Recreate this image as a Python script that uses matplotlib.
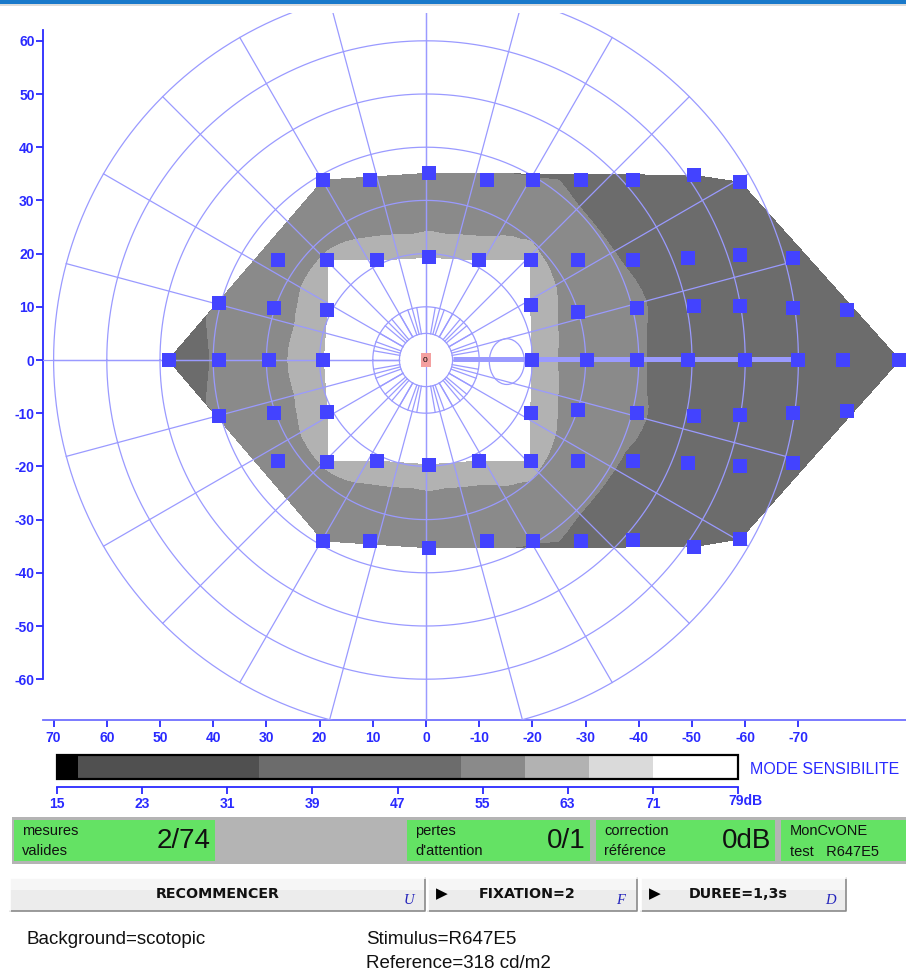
import numpy as np
import matplotlib
matplotlib.use("Agg")
import matplotlib.pyplot as plt
import matplotlib.tri as mtri
from matplotlib.patches import Rectangle, Ellipse

# ---- test locations (deg, nasal positive) and measured sensitivity (dB) ----
pt_x = [19.3, 10.5, -0.6, -11.4, -20.1, -29.1, -39.0, -50.3, -59.1,
        27.8, 18.6, 9.2, -0.6, -9.9, -19.7, -28.5, -39.0, -49.3, -59.1, -68.9,
        39.0, 28.5, 18.6, -19.7, -28.5, -39.6, -50.3, -59.1, -68.9, -79.2,
        48.4, 39.0, 29.6, 19.3, -19.9, -30.2, -39.6, -49.3, -60.0, -70.0, -78.4, -89.0,
        39.0, 28.5, 18.6, -19.7, -28.5, -39.6, -50.3, -59.1, -68.9, -79.2,
        27.8, 18.6, 9.2, -0.6, -9.9, -19.7, -28.5, -39.0, -49.3, -59.1, -68.9,
        19.3, 10.5, -0.6, -11.4, -20.1, -29.1, -39.0, -50.3, -59.1]
pt_y = [33.8, 33.8, 35.1, 33.8, 33.8, 33.8, 33.8, 34.7, 33.4,
        18.8, 18.8, 18.8, 19.3, 18.8, 18.8, 18.8, 18.8, 19.1, 19.7, 19.1,
        10.7, 9.8, 9.4, 10.3, 9.0, 9.8, 10.1, 10.1, 9.8, 9.4,
        0.0, 0.0, 0.0, 0.0, 0.0, 0.0, 0.0, 0.0, 0.0, 0.0, 0.0, 0.0,
        -10.5, -9.9, -9.8, -9.9, -9.4, -9.9, -10.5, -10.3, -9.9, -9.6,
        -19.0, -19.1, -19.0, -19.7, -19.0, -19.0, -19.0, -19.0, -19.3, -19.9, -19.3,
        -34.0, -34.0, -35.3, -34.0, -34.0, -34.0, -33.8, -35.1, -33.6]
pt_db = [55, 54.5, 54.5, 54.5, 55, 51, 48, 47, 46,
         56, 59.5, 61, 61, 61, 60, 56, 52, 47, 46, 45,
         54, 57, 62, 62, 57, 54, 48, 47, 46, 45,
         47, 54, 57.5, 62, 62, 56, 54, 48, 47, 46, 45, 44,
         54, 57, 62, 62, 57, 54, 48, 47, 46, 45,
         56, 59.5, 61, 61, 61, 60, 56, 52, 47, 46, 45,
         55, 54.5, 54.5, 54.5, 55, 51, 48, 47, 46]

# ---- sensitivity scale ----
db_bounds = [15, 17, 34, 53, 59, 65, 71, 79]
db_colors = ['#000000', '#505050', '#6c6c6c', '#8a8a8a', '#b2b2b2', '#dadada', '#ffffff']
db_ticks = [15, 23, 31, 39, 47, 55, 63, 71, 79]

# ---- axes ticks and perimeter grid ----
x_ticks = [70, 60, 50, 40, 30, 20, 10, 0, -10, -20, -30, -40, -50, -60, -70]
y_ticks = [60, 50, 40, 30, 20, 10, 0, -10, -20, -30, -40, -50, -60]
circle_radii = [5, 10, 20, 30, 40, 50, 60, 70]
spoke_step = 15
inner_spoke_step = 10

# ---- status panel ----
status_fields = [(("mesures", "valides"), "2/74"), (("pertes", "d'attention"), "0/1"),
                 (("correction", "référence"), "0dB")]
device_text = ("MonCvONE", "test   R647E5")
buttons = [("RECOMMENCER", "U", False), ("FIXATION=2", "F", True), ("DUREE=1,3s", "D", True)]
info_left = "Background=scotopic"
info_right = ["Stimulus=R647E5", "Reference=318 cd/m2"]

W, H = 906, 974
PX = 5.32            # pixels per degree
CX, CY = 426, 360    # fixation point in pixels
GRID = '#9a9aff'
AXIS_BLUE = '#2a2aff'
FONT = 'Liberation Sans'

fig = plt.figure(figsize=(W / 100, H / 100), dpi=100)

# ---------- window furniture drawn in pixel space ----------
ui = fig.add_axes([0, 0, 1, 1])
ui.set_xlim(0, W)
ui.set_ylim(H, 0)
ui.axis('off')
ui.add_patch(Rectangle((0, 0), W, 3.5, color='#1979ca', lw=0))
ui.add_patch(Rectangle((0, 3.5), W, 2, color='#dcdcdc', lw=0))

# status bar
ui.add_patch(Rectangle((12, 817), W - 12, 47, color='#b4b4b4', lw=0))
green = '#64e264'
boxes = [(14, 215), (407, 590), (596, 775)]
for (x0, x1), ((l1, l2), val) in zip(boxes, status_fields):
    ui.add_patch(Rectangle((x0, 820), x1 - x0, 41, color=green, lw=0))
    ui.text(x0 + 8, 831, l1, fontsize=10.5, family=FONT, va='center', ha='left', color='#111111')
    ui.text(x0 + 8, 851, l2, fontsize=10.5, family=FONT, va='center', ha='left', color='#111111')
    ui.text(x1 - 4, 841, val, fontsize=20, family=FONT, va='center',
            ha='right', color='#111111')
ui.add_patch(Rectangle((781, 820), W - 781, 41, color=green, lw=0))
ui.text(790, 831, device_text[0], fontsize=10.5, family=FONT, va='center', ha='left', color='#111111')
ui.text(790, 852, device_text[1], fontsize=10.5, family=FONT, va='center', ha='left', color='#111111')

# buttons
btn_spans = [(10, 425), (428, 637), (641, 846)]
for (x0, x1), (lab, key, arrow) in zip(btn_spans, buttons):
    ui.add_patch(Rectangle((x0, 878), x1 - x0, 33, facecolor='#ececec', lw=0))
    ui.add_patch(Rectangle((x0, 878), x1 - x0, 12, facecolor='#f6f6f6', lw=0))
    ui.plot([x0, x1, x1], [911, 911, 878], color='#8a8a8a', lw=1.2)
    ui.plot([x0, x0, x1], [911, 878, 878], color='#ffffff', lw=1.2)
    if arrow:
        ui.text(x0 + 8, 894, '\u25B6', fontsize=11, family='DejaVu Sans',
                va='center', ha='left', color='black')
        cx_lab = (x0 + x1) / 2 - 5.5
    else:
        cx_lab = (x0 + x1) / 2
    ui.text(cx_lab, 894, lab, fontsize=10.3, family='DejaVu Sans', weight='bold',
            va='center', ha='center', color='#111111')
    ui.text(x1 - 16, 900, key, fontsize=10.5, family='Liberation Serif', style='italic',
            va='center', ha='center', color='#2222bb')

ui.text(27, 939, info_left, fontsize=13.5, family=FONT, va='center', ha='left', color='#111111')
for i, t in enumerate(info_right):
    ui.text(366, 939 + 25 * i, t, fontsize=13.5, family=FONT, va='center', ha='left',
            color='#111111')

# ---------- perimetry chart ----------
ax = fig.add_axes([43 / W, 1 - 720 / H, (W - 43) / W, (720 - 13) / H])
ax.set_xlim((CX - 43) / PX, (CX - W) / PX)
ax.set_ylim((CY - 720) / PX, (CY - 13) / PX)
ax.patch.set_visible(False)

px_ = np.array(pt_x)
py_ = np.array(pt_y)
tri = mtri.Triangulation(px_, py_)
# the central zone enclosed by the innermost ring of locations is not shaded
inner = np.hypot(px_, py_) < 28
tri.set_mask(np.all(inner[tri.triangles], axis=1))
interp = mtri.CubicTriInterpolator(tri, pt_db, kind='geom')
tri_f, z_f = mtri.UniformTriRefiner(tri).refine_field(pt_db, triinterpolator=interp, subdiv=3)
z_f = np.ma.filled(np.ma.masked_invalid(z_f), 60.0)
ax.tricontourf(tri_f, z_f, levels=db_bounds, colors=db_colors, zorder=1)

th = np.linspace(0, 2 * np.pi, 721)
for r in circle_radii:
    ax.plot(r * np.cos(th), r * np.sin(th), color=GRID, lw=0.9, zorder=3)
for a in np.deg2rad(np.arange(0, 360, spoke_step)):
    ax.plot([5 * np.cos(a), 70 * np.cos(a)], [5 * np.sin(a), 70 * np.sin(a)],
            color=GRID, lw=0.9, zorder=3)
for a in np.deg2rad(np.arange(0, 360, inner_spoke_step)):
    ax.plot([5 * np.cos(a), 10 * np.cos(a)], [5 * np.sin(a), 10 * np.sin(a)],
            color=GRID, lw=0.9, zorder=3)
ax.plot([0, 0], [-70, 70], color=GRID, lw=0.9, zorder=3)
ax.plot([5, 72], [0, 0], color=GRID, lw=0.9, zorder=3)
# meridian towards the temporal side and the blind spot
ax.plot([-5, -70], [0.25, 0.25], color=GRID, lw=3.6, zorder=3, solid_capstyle='butt')
ax.add_patch(Ellipse((-15.2, -0.3), 6.6, 8.6, fill=False, ec=GRID, lw=0.9, zorder=3))

# fixation marker
ax.add_patch(Rectangle((-0.9, -1.4), 1.8, 2.8, color='#f4a0a0', lw=0, zorder=4))
ax.text(0.1, 0, '0', fontsize=6, family=FONT, ha='center', va='center', zorder=5)

ax.scatter(px_, py_, marker='s', s=100, c='#4343ff', linewidths=0, zorder=5)

for s in ('top', 'right'):
    ax.spines[s].set_visible(False)
ax.spines['left'].set_bounds(-60, 62)
ax.spines['left'].set_color(AXIS_BLUE)
ax.spines['left'].set_linewidth(1.3)
ax.spines['bottom'].set_color('#6f6fff')
ax.spines['bottom'].set_linewidth(1.3)
ax.set_yticks(y_ticks)
ax.set_yticklabels([str(v) for v in y_ticks])
ax.set_xticks(x_ticks)
ax.set_xticklabels([str(v) for v in x_ticks])
tick_fs = 10
ax.tick_params(axis='y', direction='out', length=5, width=1.3, color=AXIS_BLUE,
               labelcolor=AXIS_BLUE, labelsize=tick_fs, pad=1)
ax.tick_params(axis='x', direction='out', length=5, width=1.3, color=AXIS_BLUE,
               labelcolor=AXIS_BLUE, labelsize=tick_fs, pad=3)
for lab in ax.get_xticklabels() + ax.get_yticklabels():
    lab.set_family(FONT)
    lab.set_weight('bold')

# ---------- sensitivity scale ----------
cb = fig.add_axes([57 / W, 1 - 779 / H, (738 - 57) / W, 24 / H])
for lo, hi, c in zip(db_bounds[:-1], db_bounds[1:], db_colors):
    cb.barh(0.5, hi - lo, left=lo, height=1, color=c, lw=0)
cb.set_xlim(db_bounds[0], db_bounds[-1])
cb.set_ylim(0, 1)
cb.add_patch(Rectangle((0, 0), 1, 1, transform=cb.transAxes, fill=False, ec='black',
                       lw=1.6, clip_on=False, zorder=5))
for s in ('top', 'right', 'left'):
    cb.spines[s].set_visible(False)
cb.spines['bottom'].set_position(('outward', 6))
cb.spines['bottom'].set_color(AXIS_BLUE)
cb.spines['bottom'].set_linewidth(1.3)
cb.set_yticks([])
cb.set_xticks(db_ticks)
cb.set_xticklabels([str(v) for v in db_ticks[:-1]] + [''])
cb.tick_params(axis='x', direction='out', length=5, width=1.3, color=AXIS_BLUE,
               labelcolor=AXIS_BLUE, labelsize=tick_fs, pad=2)
for lab in cb.get_xticklabels():
    lab.set_family(FONT)
    lab.set_weight('bold')
ui.text(728, 801, '79dB', fontsize=tick_fs, family=FONT, weight='bold', color=AXIS_BLUE,
        ha='left', va='center')
ui.text(750, 769, 'MODE SENSIBILITE', fontsize=11.5, family=FONT, color=AXIS_BLUE,
        ha='left', va='center')

fig.savefig('out.png', dpi=100)
